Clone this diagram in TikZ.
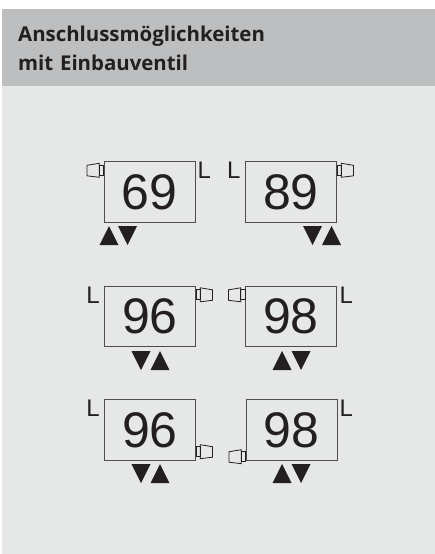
\documentclass[tikz,border=0pt]{standalone}
\usepackage{fontspec}
\setmainfont{Liberation Sans}
\newfontfamily\headfont{Open Sans}
\usepackage{xcolor}
\definecolor{PanelGray}{RGB}{230,232,231}
\definecolor{HeadGray}{RGB}{189,190,192}
\definecolor{InkBlack}{RGB}{35,31,32}
\usetikzlibrary{positioning,shapes.geometric,calc}

\begin{document}
\begin{tikzpicture}[x=1pt, y=-1pt,
    rad/.style={rectangle, draw=InkBlack!80, line width=0.9pt, minimum width=91pt, minimum height=60.5pt,
               inner sep=0pt, text=InkBlack, font=\fontsize{50}{50}\selectfont},
    lab/.style={inner sep=0pt, text=InkBlack, font=\fontsize{24}{24}\selectfont},
    up/.style={isosceles triangle, shape border rotate=90, isosceles triangle stretches, fill=InkBlack,
               minimum width=19pt, minimum height=19pt, inner sep=0pt, outer sep=0pt},
    down/.style={up, shape border rotate=-90},
    valve/.pic={
        \draw[InkBlack, line width=0.8pt] (0,-5) rectangle (-4.3,5);
        \draw[InkBlack, line width=0.8pt] (-4.3,-7) -- (-16.5,-5) -- (-16.5,5.5) -- (-4.3,7) -- cycle;
    }
]
    \useasboundingbox (0,0) rectangle (435,554);
    \fill[white] (0,0) rectangle (435,554);
    \fill[PanelGray] (2,9) rectangle (435,554);
    \fill[HeadGray] (2,9) rectangle (435,86);
    \node[anchor=north west, align=left, inner sep=0pt, text=InkBlack, text width=300pt,
          font=\headfont\bfseries\fontsize{20.4}{28.5}\selectfont] (title) at (18,26) {Anschlussmöglichkeiten\\mit Einbauventil};

    % top row
    \node[rad] (r69) at (149.5,192) {69};
    \node[rad] (r89) at (291,192) {89};
    \node[lab, anchor=north west] (l69) at (197.5,161.5) {L};
    \node[lab, anchor=north west] (l89) at (227,161.5) {L};
    \pic at ($(r69.north west)+(0,9)$) {valve};
    \pic[xscale=-1] at ($(r89.north east)+(0,9)$) {valve};
    \node[up, anchor=north] (a69) at (109,226) {};
    \node[down, anchor=north] (b69) at (127.5,226) {};
    \node[down, anchor=north] (a89) at (312.5,226) {};
    \node[up, anchor=north] (b89) at (331.5,226) {};

    % middle row
    \node[rad] (r96) at (150,316.5) {96};
    \node[rad] (r98) at (291,316.5) {98};
    \node[lab, anchor=north east] (l96) at (100,286.5) {L};
    \node[lab, anchor=north west] (l98) at (339.5,286.5) {L};
    \pic[xscale=-1] at ($(r96.north east)+(0,9)$) {valve};
    \pic at ($(r98.north west)+(0,9)$) {valve};
    \node[down, anchor=north] (a96) at (141,351) {};
    \node[up, anchor=north] (b96) at (160,351) {};
    \node[up, anchor=north] (a98) at (282,351) {};
    \node[down, anchor=north] (b98) at (301,351) {};

    % bottom row
    \node[rad] (s96) at (150,430) {96};
    \node[rad] (s98) at (291.5,430) {98};
    \node[lab, anchor=north east] (m96) at (100,400) {L};
    \node[lab, anchor=north west] (m98) at (339.5,400) {L};
    \pic[xscale=-1] at ($(s96.south east)+(0,-9)$) {valve};
    \pic at ($(s98.south west)+(0,-4)$) {valve};
    \node[down, anchor=north] (c96) at (141,464) {};
    \node[up, anchor=north] (d96) at (160,464) {};
    \node[up, anchor=north] (c98) at (282,464) {};
    \node[down, anchor=north] (d98) at (301,464) {};
\end{tikzpicture}
\end{document}
